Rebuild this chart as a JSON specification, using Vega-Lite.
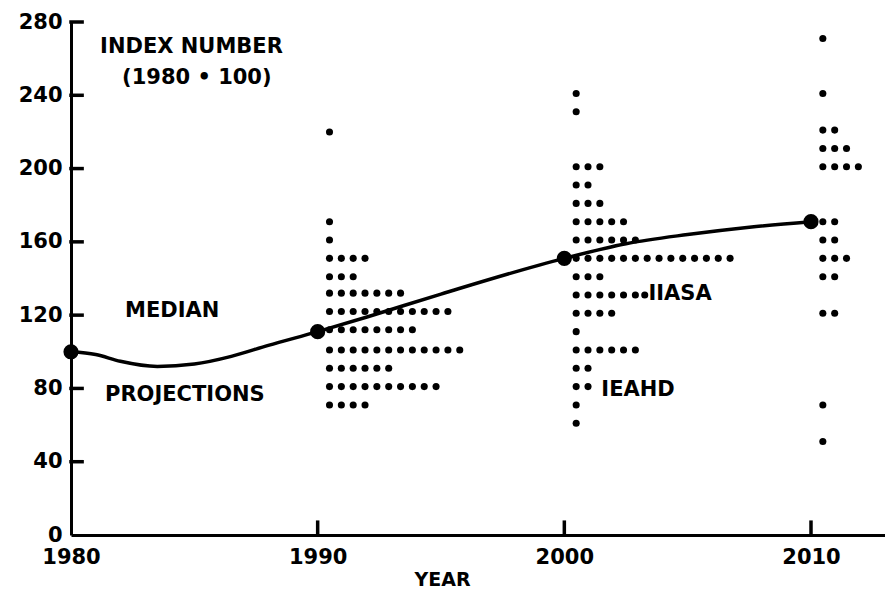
{
  "$schema": "https://vega.github.io/schema/vega-lite/v6.json",
  "width": 814,
  "height": 513,
  "autosize": {"type": "none"},
  "padding": {"left": 71, "top": 22, "right": 0, "bottom": 60},
  "background": "white",
  "config": {"view": {"stroke": null}},
  "datasets": {
    "dots": [
      {"x": 1990.48, "y": 220},
      {"x": 1990.48, "y": 171},
      {"x": 1990.48, "y": 161},
      {"x": 1990.48, "y": 151}, {"x": 1990.96, "y": 151}, {"x": 1991.44, "y": 151}, {"x": 1991.92, "y": 151},
      {"x": 1990.48, "y": 141}, {"x": 1990.96, "y": 141}, {"x": 1991.44, "y": 141},
      {"x": 1990.48, "y": 132}, {"x": 1990.96, "y": 132}, {"x": 1991.44, "y": 132}, {"x": 1991.92, "y": 132}, {"x": 1992.40, "y": 132}, {"x": 1992.88, "y": 132}, {"x": 1993.36, "y": 132},
      {"x": 1990.48, "y": 122}, {"x": 1990.96, "y": 122}, {"x": 1991.44, "y": 122}, {"x": 1991.92, "y": 122}, {"x": 1992.40, "y": 122}, {"x": 1992.88, "y": 122}, {"x": 1993.36, "y": 122}, {"x": 1993.84, "y": 122}, {"x": 1994.32, "y": 122}, {"x": 1994.80, "y": 122}, {"x": 1995.28, "y": 122},
      {"x": 1990.48, "y": 112}, {"x": 1990.96, "y": 112}, {"x": 1991.44, "y": 112}, {"x": 1991.92, "y": 112}, {"x": 1992.40, "y": 112}, {"x": 1992.88, "y": 112}, {"x": 1993.36, "y": 112}, {"x": 1993.84, "y": 112},
      {"x": 1990.48, "y": 101}, {"x": 1990.96, "y": 101}, {"x": 1991.44, "y": 101}, {"x": 1991.92, "y": 101}, {"x": 1992.40, "y": 101}, {"x": 1992.88, "y": 101}, {"x": 1993.36, "y": 101}, {"x": 1993.84, "y": 101}, {"x": 1994.32, "y": 101}, {"x": 1994.80, "y": 101}, {"x": 1995.28, "y": 101}, {"x": 1995.76, "y": 101},
      {"x": 1990.48, "y": 91}, {"x": 1990.96, "y": 91}, {"x": 1991.44, "y": 91}, {"x": 1991.92, "y": 91}, {"x": 1992.40, "y": 91}, {"x": 1992.88, "y": 91},
      {"x": 1990.48, "y": 81}, {"x": 1990.96, "y": 81}, {"x": 1991.44, "y": 81}, {"x": 1991.92, "y": 81}, {"x": 1992.40, "y": 81}, {"x": 1992.88, "y": 81}, {"x": 1993.36, "y": 81}, {"x": 1993.84, "y": 81}, {"x": 1994.32, "y": 81}, {"x": 1994.80, "y": 81},
      {"x": 1990.48, "y": 71}, {"x": 1990.96, "y": 71}, {"x": 1991.44, "y": 71}, {"x": 1991.92, "y": 71},

      {"x": 2000.48, "y": 241},
      {"x": 2000.48, "y": 231},
      {"x": 2000.48, "y": 201}, {"x": 2000.96, "y": 201}, {"x": 2001.44, "y": 201},
      {"x": 2000.48, "y": 191}, {"x": 2000.96, "y": 191},
      {"x": 2000.48, "y": 181}, {"x": 2000.96, "y": 181}, {"x": 2001.44, "y": 181},
      {"x": 2000.48, "y": 171}, {"x": 2000.96, "y": 171}, {"x": 2001.44, "y": 171}, {"x": 2001.92, "y": 171}, {"x": 2002.40, "y": 171},
      {"x": 2000.48, "y": 161}, {"x": 2000.96, "y": 161}, {"x": 2001.44, "y": 161}, {"x": 2001.92, "y": 161}, {"x": 2002.40, "y": 161}, {"x": 2002.88, "y": 161},
      {"x": 2000.48, "y": 151}, {"x": 2000.96, "y": 151}, {"x": 2001.44, "y": 151}, {"x": 2001.92, "y": 151}, {"x": 2002.40, "y": 151}, {"x": 2002.88, "y": 151}, {"x": 2003.36, "y": 151}, {"x": 2003.84, "y": 151}, {"x": 2004.32, "y": 151}, {"x": 2004.80, "y": 151}, {"x": 2005.28, "y": 151}, {"x": 2005.76, "y": 151}, {"x": 2006.24, "y": 151}, {"x": 2006.72, "y": 151},
      {"x": 2000.48, "y": 141}, {"x": 2000.96, "y": 141}, {"x": 2001.44, "y": 141},
      {"x": 2000.48, "y": 131}, {"x": 2000.96, "y": 131}, {"x": 2001.44, "y": 131}, {"x": 2001.92, "y": 131}, {"x": 2002.40, "y": 131}, {"x": 2002.88, "y": 131}, {"x": 2003.26, "y": 131},
      {"x": 2000.48, "y": 121}, {"x": 2000.96, "y": 121}, {"x": 2001.44, "y": 121}, {"x": 2001.92, "y": 121},
      {"x": 2000.48, "y": 111},
      {"x": 2000.48, "y": 101}, {"x": 2000.96, "y": 101}, {"x": 2001.44, "y": 101}, {"x": 2001.92, "y": 101}, {"x": 2002.40, "y": 101}, {"x": 2002.88, "y": 101},
      {"x": 2000.48, "y": 91}, {"x": 2000.96, "y": 91},
      {"x": 2000.48, "y": 81}, {"x": 2000.96, "y": 81},
      {"x": 2000.48, "y": 71},
      {"x": 2000.48, "y": 61},

      {"x": 2010.48, "y": 271},
      {"x": 2010.48, "y": 241},
      {"x": 2010.48, "y": 221}, {"x": 2010.96, "y": 221},
      {"x": 2010.48, "y": 211}, {"x": 2010.96, "y": 211}, {"x": 2011.44, "y": 211},
      {"x": 2010.48, "y": 201}, {"x": 2010.96, "y": 201}, {"x": 2011.44, "y": 201}, {"x": 2011.92, "y": 201},
      {"x": 2010.48, "y": 171}, {"x": 2010.96, "y": 171},
      {"x": 2010.48, "y": 161}, {"x": 2010.96, "y": 161},
      {"x": 2010.48, "y": 151}, {"x": 2010.96, "y": 151}, {"x": 2011.44, "y": 151},
      {"x": 2010.48, "y": 141}, {"x": 2010.96, "y": 141},
      {"x": 2010.48, "y": 121}, {"x": 2010.96, "y": 121},
      {"x": 2010.48, "y": 71},
      {"x": 2010.48, "y": 51}
    ],
    "curve": [
      {"x": 1980, "y": 100},
      {"x": 1981, "y": 98.5},
      {"x": 1982, "y": 94.8},
      {"x": 1983.5, "y": 92},
      {"x": 1985, "y": 93.3},
      {"x": 1986.5, "y": 97.5},
      {"x": 1988, "y": 103.5},
      {"x": 1990, "y": 111},
      {"x": 1992, "y": 119},
      {"x": 1995, "y": 131.5},
      {"x": 2000, "y": 151},
      {"x": 2002.5, "y": 159},
      {"x": 2005, "y": 164},
      {"x": 2007.5, "y": 168},
      {"x": 2010, "y": 171}
    ],
    "medians": [
      {"x": 1980, "y": 100},
      {"x": 1990, "y": 111},
      {"x": 2000, "y": 151},
      {"x": 2010, "y": 171}
    ],
    "yticks": [
      {"a": 1980, "b": 1980.45, "v": 40},
      {"a": 1980, "b": 1980.45, "v": 80},
      {"a": 1980, "b": 1980.45, "v": 120},
      {"a": 1980, "b": 1980.45, "v": 160},
      {"a": 1980, "b": 1980.45, "v": 200},
      {"a": 1980, "b": 1980.45, "v": 240},
      {"a": 1980, "b": 1980.45, "v": 280}
    ],
    "xticks": [
      {"t": 1990, "a": 0, "b": 7},
      {"t": 2000, "a": 0, "b": 7},
      {"t": 2010, "a": 0, "b": 7}
    ],
    "labels": [
      {"x": 1981.18, "y": 266.5, "text": "INDEX NUMBER"},
      {"x": 1982.07, "y": 249.5, "text": "(1980 • 100)"},
      {"x": 1982.19, "y": 122.3, "text": "MEDIAN"},
      {"x": 1981.38, "y": 76.4, "text": "PROJECTIONS"},
      {"x": 2003.41, "y": 131.5, "text": "IIASA"},
      {"x": 2001.5, "y": 79.1, "text": "IEAHD"}
    ]
  },
  "layer": [
    {
      "data": {"name": "dots"},
      "mark": {"type": "circle", "color": "black", "opacity": 1, "size": 50},
      "encoding": {
        "x": {
          "field": "x",
          "type": "quantitative",
          "scale": {"domain": [1980, 2013], "nice": false, "zero": false},
          "axis": {
            "values": [1980, 1990, 2000, 2010],
            "format": "d",
            "title": "YEAR",
            "grid": false,
            "ticks": false,
            "domainColor": "black",
            "domainWidth": 3,
            "labelPadding": 11,
            "labelFont": "DejaVu Sans",
            "labelFontWeight": "bold",
            "labelFontSize": 21,
            "labelColor": "black",
            "labelFlush": false,
            "titleFont": "DejaVu Sans",
            "titleFontWeight": "bold",
            "titleFontSize": 19,
            "titleColor": "black",
            "titleX": 371,
            "titleY": 44,
            "titleAnchor": "middle",
            "titleBaseline": "middle"
          }
        },
        "y": {
          "field": "y",
          "type": "quantitative",
          "scale": {"domain": [0, 280], "nice": false},
          "axis": {
            "values": [0, 40, 80, 120, 160, 200, 240, 280],
            "title": null,
            "grid": false,
            "ticks": false,
            "domainColor": "black",
            "domainWidth": 3,
            "labelPadding": 9,
            "labelFont": "DejaVu Sans",
            "labelFontWeight": "bold",
            "labelFontSize": 21,
            "labelColor": "black",
            "labelFlush": false
          }
        }
      }
    },
    {
      "data": {"name": "yticks"},
      "mark": {"type": "rule", "color": "black", "strokeWidth": 3.5, "strokeCap": "square"},
      "encoding": {
        "x": {"field": "a", "type": "quantitative"},
        "x2": {"field": "b"},
        "y": {"field": "v", "type": "quantitative"}
      }
    },
    {
      "data": {"name": "xticks"},
      "mark": {"type": "rule", "color": "black", "strokeWidth": 3.5, "strokeCap": "square"},
      "encoding": {
        "x": {"field": "t", "type": "quantitative"},
        "y": {"field": "a", "type": "quantitative"},
        "y2": {"field": "b"}
      }
    },
    {
      "data": {"name": "curve"},
      "mark": {"type": "line", "interpolate": "monotone", "color": "black", "strokeWidth": 3.5},
      "encoding": {
        "x": {"field": "x", "type": "quantitative"},
        "y": {"field": "y", "type": "quantitative"}
      }
    },
    {
      "data": {"name": "medians"},
      "mark": {"type": "circle", "color": "black", "opacity": 1, "size": 230},
      "encoding": {
        "x": {"field": "x", "type": "quantitative"},
        "y": {"field": "y", "type": "quantitative"}
      }
    },
    {
      "data": {"name": "labels"},
      "mark": {"type": "text", "align": "left", "baseline": "middle", "font": "DejaVu Sans", "fontWeight": "bold", "fontSize": 21, "color": "black"},
      "encoding": {
        "x": {"field": "x", "type": "quantitative"},
        "y": {"field": "y", "type": "quantitative"},
        "text": {"field": "text"}
      }
    }
  ]
}
